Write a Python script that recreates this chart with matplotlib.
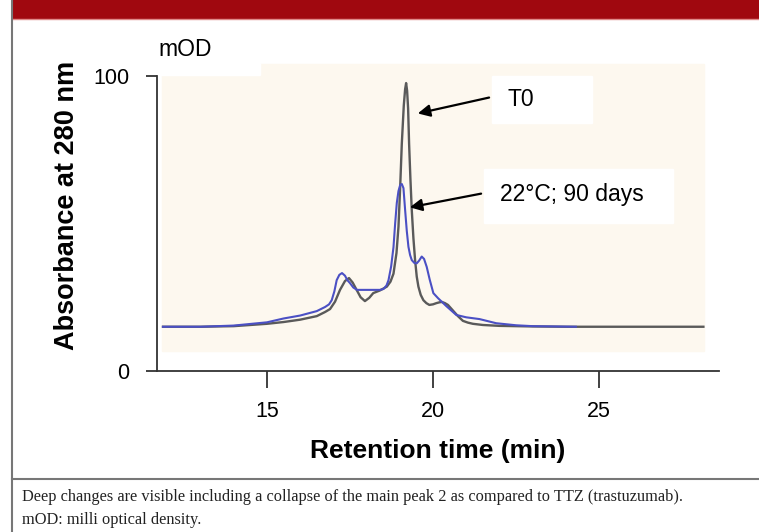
import matplotlib.pyplot as plt
from matplotlib.patches import Rectangle
from matplotlib.lines import Line2D

# retention time (min) / absorbance (mOD)
t0_time = [11.87, 13.0, 14.0, 15.0, 15.5, 16.0, 16.5, 16.75, 16.9, 17.05, 17.2,
           17.35, 17.47, 17.58, 17.7, 17.82, 17.95, 18.08, 18.2, 18.4, 18.61,
           18.72, 18.81, 18.9, 18.96, 19.01, 19.06, 19.12, 19.16, 19.19, 19.22,
           19.25, 19.28, 19.32, 19.36, 19.41, 19.46, 19.51, 19.56, 19.63, 19.71,
           19.8, 19.89, 20.0, 20.1, 20.2, 20.27, 20.36, 20.45, 20.6, 20.75,
           20.9, 21.05, 21.2, 21.5, 22.0, 23.0, 24.0, 25.0, 28.14]
t0_abs = [15.0, 15.0, 15.2, 16.0, 16.6, 17.4, 18.6, 20.0, 21.0, 23.5, 27.5,
          30.5, 31.5, 30.0, 27.5, 25.0, 23.7, 24.8, 26.4, 27.3, 28.6,
          30.3, 33.0, 40.0, 48.9, 62.0, 77.0, 90.0, 95.5, 97.6, 95.0,
          89.0, 77.0, 65.0, 54.6, 45.0, 37.6, 32.0, 28.6, 25.8, 24.0,
          23.0, 22.4, 22.6, 23.0, 23.3, 23.4, 23.0, 22.4, 20.5, 18.6,
          17.0, 16.4, 16.0, 15.6, 15.3, 15.1, 15.0, 15.0, 15.0]

d90_time = [11.87, 13.0, 14.0, 15.0, 15.5, 16.0, 16.5, 16.75, 16.87, 16.95, 17.03,
            17.1, 17.18, 17.26, 17.35, 17.42, 17.5, 17.6, 17.71, 18.1, 18.4,
            18.51, 18.6, 18.66, 18.74, 18.81, 18.86, 18.91, 18.96, 19.01, 19.06,
            19.11, 19.16, 19.21, 19.26, 19.31, 19.36, 19.44, 19.51, 19.58, 19.66,
            19.73, 19.81, 19.9, 20.01, 20.15, 20.4, 20.7, 21.0, 21.4,
            21.9, 22.5, 23.0, 24.3]
d90_abs = [15.0, 15.0, 15.4, 16.5, 17.8, 18.8, 20.3, 21.7, 22.6, 24.0, 27.0,
           30.8, 32.6, 33.2, 32.3, 30.8, 29.8, 28.3, 27.5, 27.5, 27.5,
           27.8, 29.0, 30.8, 35.5, 42.0, 50.0, 57.0, 61.0, 63.0, 63.4,
           62.0, 54.6, 47.5, 42.1, 39.3, 37.6, 36.6, 36.5, 37.4, 38.8,
           38.0, 35.3, 31.0, 26.4, 24.7, 22.0, 19.0, 18.2, 17.6,
           16.2, 15.5, 15.2, 15.0]

x_ticks = [15, 20, 25]
y_ticks = [0, 100]
labels = ["T0", "22°C; 90 days"]

W, H = 759, 532
plt.rcParams["font.family"] = ["Liberation Sans", "DejaVu Sans"]
fig = plt.figure(figsize=(W / 100, H / 100), dpi=100)


def fx(px):
    return px / W


def fy(py):
    return 1 - py / H


# page frame: red banner, left rule, caption separator
fig.patches.append(Rectangle((fx(12), fy(18)), 1, 18 / H, transform=fig.transFigure,
                             color="#a0080f", zorder=-2))
fig.lines.append(Line2D([fx(12), 1], [fy(19), fy(19)], transform=fig.transFigure,
                        color="#e08a8a", lw=1))
fig.lines.append(Line2D([fx(12), fx(12)], [0, 1], transform=fig.transFigure,
                        color="#777777", lw=1.5))
fig.lines.append(Line2D([fx(12), 1], [fy(479), fy(479)], transform=fig.transFigure,
                        color="#777777", lw=1.5))

# cream plot area of the original instrument printout
fig.patches.append(Rectangle((fx(162), fy(351)), fx(704) - fx(162), fy(64) - fy(351),
                             transform=fig.transFigure, color="#fdf8ef", zorder=-2))
fig.patches.append(Rectangle((fx(150), fy(75)), fx(260) - fx(150), 12 / H,
                             transform=fig.transFigure, color="white", zorder=-1))

ax = fig.add_axes([fx(157), fy(371), fx(719) - fx(157), fy(76) - fy(371)])
ax.set_xlim(11.69, 28.61)
ax.set_ylim(0, 100)
ax.patch.set_visible(False)

ax.plot(t0_time, t0_abs, color="#5a5a5a", lw=1.7, zorder=3)
ax.plot(d90_time, d90_abs, color="#4b50c4", lw=1.5, zorder=4)

for s in ["top", "right"]:
    ax.spines[s].set_visible(False)
for s in ["left", "bottom"]:
    ax.spines[s].set_color("#333333")
    ax.spines[s].set_linewidth(1.3)

ax.set_xticks(x_ticks)
ax.set_yticks(y_ticks)
ax.tick_params(axis="x", direction="out", length=12.5, width=1.3, color="#333333",
               labelsize=15.5, pad=9)
ax.tick_params(axis="y", direction="out", length=8, width=1.3, color="#333333",
               labelsize=15.5, pad=12)

fig.text(fx(438), fy(451), "Retention time (min)", fontsize=19, fontweight="bold",
         ha="center", va="center")
fig.text(fx(67), fy(205), "Absorbance at 280 nm", fontsize=19.5, fontweight="bold",
         ha="center", va="center", rotation=90)

fig.text(fx(158), fy(50), "mOD", fontsize=16.5, va="center", ha="left")

# labelled arrows pointing to the main peak
arrow = dict(arrowstyle="-|>", color="black", lw=1.6, mutation_scale=18)
ax.annotate("", xy=(19.46, 87.1), xytext=(21.77, 92.9), arrowprops=arrow, zorder=6)
ax.annotate("", xy=(19.22, 55.3), xytext=(21.53, 60.3), arrowprops=arrow, zorder=6)

fig.patches.append(Rectangle((fx(492), fy(123)), fx(592) - fx(492), 47 / H,
                             transform=fig.transFigure, color="white", zorder=-1))
fig.patches.append(Rectangle((fx(484), fy(223)), fx(673) - fx(484), 54 / H,
                             transform=fig.transFigure, color="white", zorder=-1))
fig.text(fx(508), fy(100), labels[0], fontsize=16.5, va="center", ha="left")
fig.text(fx(500), fy(194), labels[1], fontsize=16.5, va="center", ha="left")

caption = ["Deep changes are visible including a collapse of the main peak 2 as compared "
           "to TTZ (trastuzumab).", "mOD: milli optical density."]
fig.text(fx(22), fy(497), caption[0], fontsize=11.8, family="Liberation Serif",
         va="center", ha="left", color="#222222")
fig.text(fx(22), fy(520), caption[1], fontsize=11.8, family="Liberation Serif",
         va="center", ha="left", color="#222222")

fig.savefig("out.png", dpi=100)
